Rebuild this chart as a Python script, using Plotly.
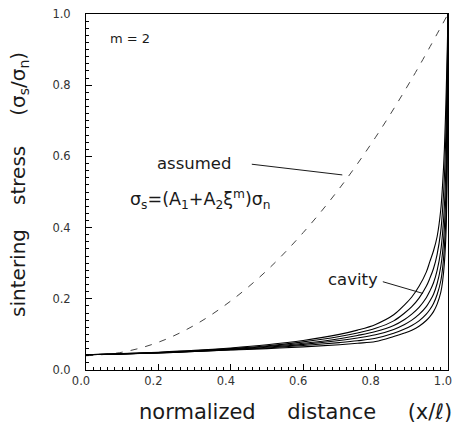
import plotly.graph_objects as go

# ---- data ----
x_cav = [0, 0.1, 0.2, 0.3, 0.4, 0.5, 0.6, 0.7, 0.75, 0.8, 0.85, 0.88, 0.9, 0.92,
         0.94, 0.95, 0.96, 0.97, 0.98, 0.985, 0.99, 0.995, 0.998, 1.0]
cavity_1 = [0.043, 0.046, 0.050, 0.055, 0.062, 0.071, 0.083, 0.100, 0.112, 0.128, 0.155, 0.183,
            0.205, 0.235, 0.275, 0.305, 0.335, 0.375, 0.45, 0.52, 0.62, 0.78, 0.9, 1.0]
cavity_2 = [0.043, 0.046, 0.049, 0.054, 0.060, 0.068, 0.079, 0.094, 0.104, 0.117, 0.138, 0.160,
            0.178, 0.202, 0.235, 0.258, 0.285, 0.325, 0.39, 0.45, 0.54, 0.70, 0.85, 1.0]
cavity_3 = [0.043, 0.045, 0.049, 0.053, 0.059, 0.066, 0.075, 0.088, 0.097, 0.108, 0.125, 0.142,
            0.157, 0.176, 0.203, 0.222, 0.245, 0.28, 0.335, 0.385, 0.46, 0.60, 0.80, 1.0]
cavity_4 = [0.043, 0.045, 0.048, 0.053, 0.058, 0.064, 0.072, 0.083, 0.090, 0.099, 0.114, 0.128,
            0.140, 0.156, 0.178, 0.194, 0.213, 0.243, 0.29, 0.33, 0.40, 0.52, 0.72, 1.0]
cavity_5 = [0.043, 0.045, 0.048, 0.052, 0.057, 0.062, 0.069, 0.077, 0.082, 0.089, 0.103, 0.115,
            0.125, 0.138, 0.157, 0.170, 0.187, 0.212, 0.25, 0.285, 0.345, 0.45, 0.65, 1.0]
cavity_6 = [0.043, 0.045, 0.048, 0.052, 0.056, 0.060, 0.065, 0.071, 0.075, 0.080, 0.094, 0.104,
            0.112, 0.123, 0.139, 0.150, 0.164, 0.185, 0.218, 0.248, 0.30, 0.40, 0.60, 1.0]
cavity_series = [cavity_1, cavity_2, cavity_3, cavity_4, cavity_5, cavity_6]

x_assumed = [0.0, 0.1, 0.2, 0.3, 0.4, 0.5, 0.6, 0.7, 0.8, 0.9, 1.0]
assumed = [0.04, 0.05, 0.078, 0.126, 0.194, 0.28, 0.386, 0.51, 0.654, 0.818, 1.0]

tick_vals = [0.0, 0.2, 0.4, 0.6, 0.8, 1.0]
tick_text = ["0.0", "0.2", "0.4", "0.6", "0.8", "1.0"]

FONT = "DejaVu Sans"
INK = "#1a1a1a"

fig = go.Figure()

fig.add_trace(go.Scatter(x=x_assumed, y=assumed, mode="lines", line_shape="spline",
                         line=dict(color="#444", width=1, dash="7px,8px"),
                         hoverinfo="skip", showlegend=False))
for ys in cavity_series:
    fig.add_trace(go.Scatter(x=x_cav, y=ys, mode="lines", line_shape="spline",
                             line=dict(color="black", width=1.1),
                             hoverinfo="skip", showlegend=False))

axis_common = dict(
    range=[0, 1], tickvals=tick_vals, ticktext=tick_text,
    ticks="inside", ticklen=6, tickwidth=1, tickcolor="black",
    minor=dict(ticks="inside", ticklen=3, dtick=0.02, tickcolor="black", tickwidth=1),
    showgrid=False, zeroline=False, showline=True, linecolor="black", linewidth=1,
    mirror=True, tickfont=dict(family=FONT, size=11.5, color="#333"),
)
fig.update_xaxes(**axis_common, ticklabelshift=-5)
fig.update_yaxes(**axis_common, ticklabelstandoff=12)

annots = [
    dict(x=0.06, y=0.93, text="m = 2", xanchor="left", yanchor="middle", font_size=13),
    dict(x=0.19, y=0.579, text="assumed", xanchor="left", yanchor="middle", font_size=16.5),
    dict(x=0.116, y=0.478, text="σ<sub>s</sub>=(A<sub>1</sub>+A<sub>2</sub>ξ<sup>m</sup>)σ<sub>n</sub>",
         xanchor="left", yanchor="middle", font_size=17.5),
    dict(x=0.663, y=0.253, text="cavity", xanchor="left", yanchor="middle", font_size=16.5),
]
for a in annots:
    fig.add_annotation(xref="x", yref="y", showarrow=False,
                       font=dict(family=FONT, color=INK, size=a.pop("font_size")), **a)

# leader lines
fig.add_shape(type="line", xref="x", yref="y", x0=0.458, y0=0.578, x1=0.708, y1=0.548,
              line=dict(color=INK, width=1))
fig.add_shape(type="line", xref="x", yref="y", x0=0.82, y0=0.248, x1=0.931, y1=0.215,
              line=dict(color=INK, width=1))

# axis titles
fig.add_annotation(xref="paper", yref="paper", x=0.578, y=-0.08, xanchor="center", yanchor="top",
                   text="normalized\u2003\u2002distance\u2003\u2002(x/ℓ)", showarrow=False,
                   font=dict(family=FONT, size=21, color=INK))
fig.add_annotation(xref="paper", yref="paper", x=-0.185, y=0.52, xanchor="center", yanchor="middle",
                   text="sintering\u2003\u2009stress\u2003\u2002(σ<sub>s</sub>/σ<sub>n</sub>)", showarrow=False,
                   textangle=-90, font=dict(family=FONT, size=20, color=INK))

fig.update_layout(
    width=459, height=426,
    margin=dict(l=86, r=7, t=14, b=56),
    paper_bgcolor="white", plot_bgcolor="white",
    showlegend=False,
)

fig.write_html("out.html", config={"displayModeBar": False},
               post_script="document.body.style.margin='0';document.body.style.overflow='hidden';")
